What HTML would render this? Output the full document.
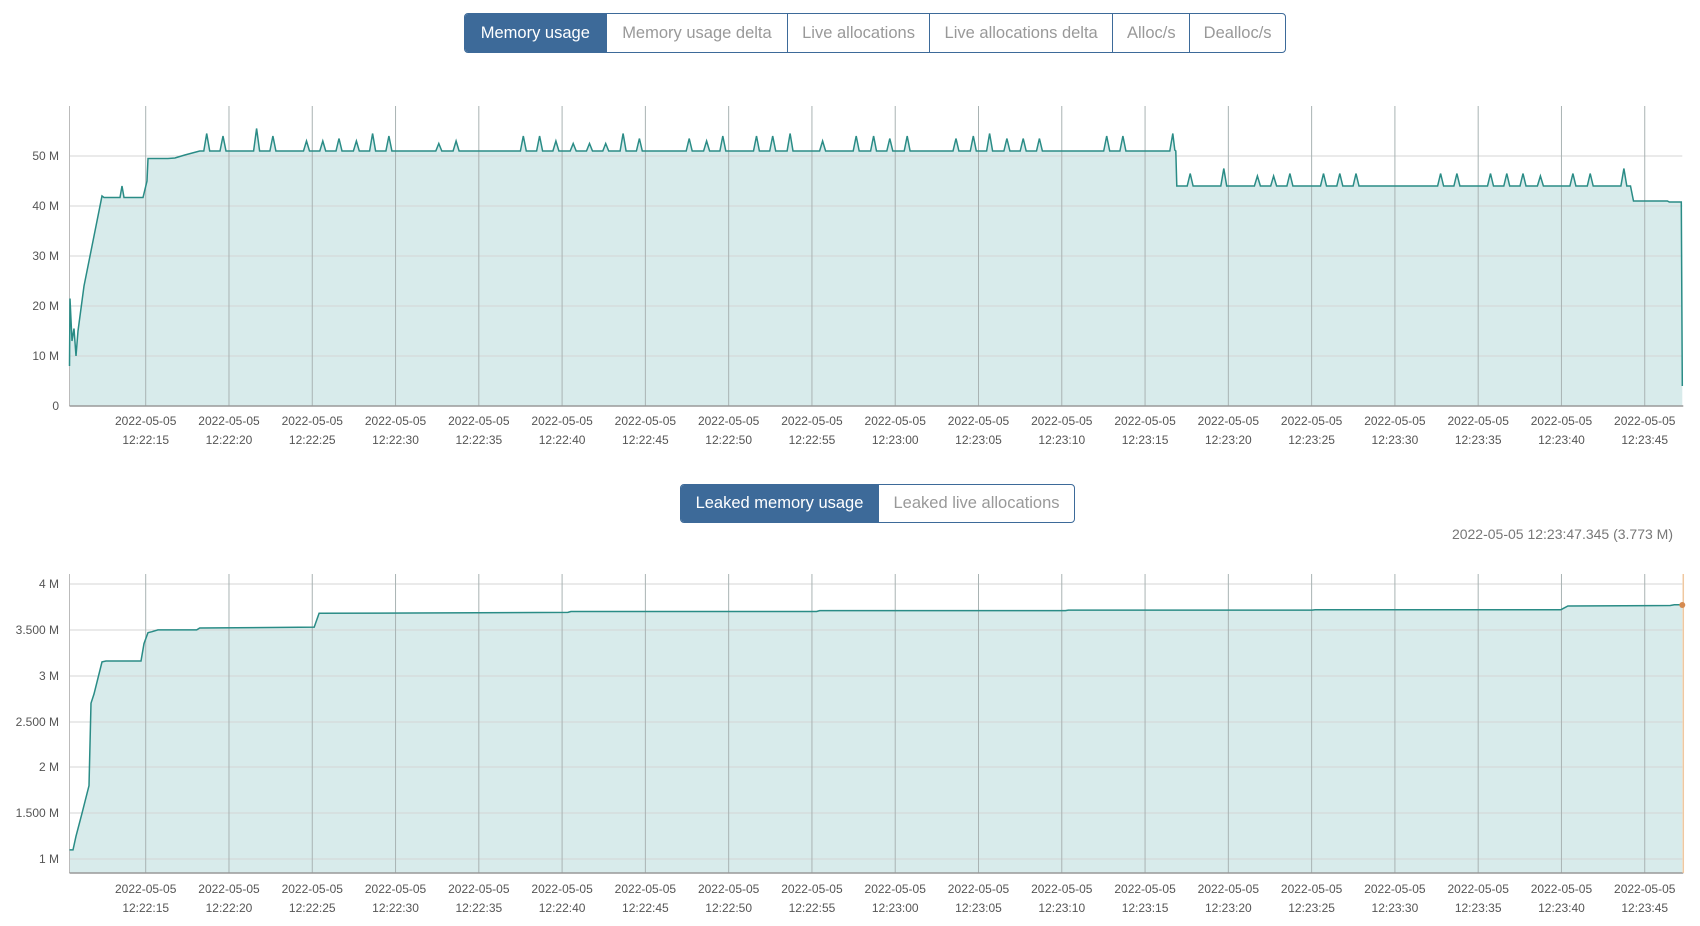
<!DOCTYPE html>
<html><head><meta charset="utf-8"><style>
html,body{margin:0;padding:0;background:#fff;width:1700px;height:926px;overflow:hidden;font-family:"Liberation Sans","DejaVu Sans",sans-serif}
.bg{position:absolute;display:flex;border:1px solid #3d6a99;border-radius:4px;overflow:hidden;box-sizing:border-box}
.bg div{font-size:16.5px;color:#999;display:flex;align-items:center;justify-content:center;border-left:1px solid #3d6a99;box-sizing:border-box;height:100%}
.bg div:first-child{border-left:none}
.bg div.act{background:#3d6a99;color:#fff}
svg{position:absolute;left:0;top:0}
</style></head><body>
<div class="bg" style="left:464px;top:13px;width:822px;height:40px">
<div class="act" style="width:141px">Memory usage</div><div style="width:182px">Memory usage delta</div><div style="width:142px">Live allocations</div><div style="width:184px">Live allocations delta</div><div style="width:77px">Alloc/s</div><div style="width:96px">Dealloc/s</div></div>
<div class="bg" style="left:680px;top:484px;width:395px;height:39px">
<div class="act" style="width:198px">Leaked memory usage</div><div style="width:197px">Leaked live allocations</div></div>
<svg id="s" width="1700" height="926" xmlns="http://www.w3.org/2000/svg" font-family="Liberation Sans, DejaVu Sans, sans-serif"></svg>
<script>
const s=document.getElementById('s');let h='';
const X0=69.5,T0=145.7,DX=83.28;
const sx=x=>x<=T0?x:T0+(x-T0)*0.995;
const XR=sx(1690);
const times=['12:22:15','12:22:20','12:22:25','12:22:30','12:22:35','12:22:40','12:22:45','12:22:50','12:22:55','12:23:00','12:23:05','12:23:10','12:23:15','12:23:20','12:23:25','12:23:30','12:23:35','12:23:40','12:23:45'];
function chart(top,bot,yticks,pts,ly){
  pts=pts.map(p=>[sx(p[0]),p[1]]);
  let d='M'+X0+','+bot;pts.forEach(p=>d+=' L'+p[0].toFixed(1)+','+p[1].toFixed(1));d+=' L'+pts[pts.length-1][0].toFixed(1)+','+bot+' Z';
  h+=`<path d="${d}" fill="#d8ebeb"/>`;
  yticks.forEach(t=>{h+=`<line x1="${X0}" x2="${XR}" y1="${t[0]}" y2="${t[0]}" stroke="#d4d4d4" stroke-width="1"/>`;
    h+=`<text x="59" y="${t[0]+4}" font-size="12" fill="#555" text-anchor="end">${t[1]}</text>`});
  for(let i=0;i<19;i++){const x=T0+i*DX;h+=`<line x1="${x}" x2="${x}" y1="${top}" y2="${bot}" stroke="#a9b3b3" stroke-width="1"/>`;
    h+=`<text x="${x}" y="${ly}" font-size="12" fill="#555" text-anchor="middle">2022-05-05</text><text x="${x}" y="${ly+19}" font-size="12" fill="#555" text-anchor="middle">${times[i]}</text>`}
  h+=`<line x1="${X0}" x2="${X0}" y1="${top}" y2="${bot}" stroke="#bbb"/><line x1="${X0}" x2="${XR+1}" y1="${bot}" y2="${bot}" stroke="#999" stroke-width="1.5"/>`;
  let l='M'+pts.map(p=>p[0].toFixed(1)+','+p[1].toFixed(1)).join(' L');
  h+=`<path d="${l}" fill="none" stroke="#2a8c86" stroke-width="1.5"/>`;
}
const yT=v=>405-v*5;
let raw=[[69.5,8],[70,21.5],[72,13],[74,15.5],[76,10],[78,15],[84,24],[91,31],[96,36],[102,42],[104,41.7],[120,41.7],[122,44],[124,41.7],[143,41.7],[147,45],[148,49.5],[168,49.5]];
const k=1.0897;
const sp1=[158,174,190,205,236,251,282,297,312,328,343,358,404,420,482,497,512,528,543,558,574,589,635,651,666,697,712,728,758,789,805,820,836,881,897,912,928,943,958,1020,1035,1081];
const hs=[2.5,3,3.5,3,4.5,3,2,2,2.5,2,3.5,3,1.5,2,3,3,2,1.5,1.5,1.5,3.5,2.5,2.5,2,3,3,3,3.5,2,3,3,2.5,3,2.5,3,3.5,2.5,2.5,2.5,3,3,3.5];
raw.push([175,49.6],[185,50.2],[200,51]);
sp1.forEach((dx,i)=>{const x=dx*k;if(x<=200)return;raw.push([x-3,51],[x,51+hs[i]],[x+3,51])});
raw.push([1180,51.2],[1182,44]);
const sp2=[1097,1128,1159,1174,1189,1220,1235,1250,1328,1343,1374,1389,1404,1420,1450,1466,1497];
const h2=[2.5,3.5,2,2,2.5,2.5,2.5,2.5,2.5,2.5,2.5,2.5,2.5,2,2.5,2.5,3.5];
sp2.forEach((dx,i)=>{const x=dx*k;raw.push([x-3,44],[x,44+h2[i]],[x+3,44])});
raw.push([1638,44],[1641,41],[1675,41],[1677,40.8],[1689,40.8],[1690,4]);
raw.sort((a,b)=>a[0]-b[0]);
chart(106,406,[[406,'0'],[356,'10 M'],[306,'20 M'],[256,'30 M'],[206,'40 M'],[156,'50 M']],raw.map(p=>[p[0],yT(p[1])+1]),425);
const yB=v=>584+(4-v)*91.7;
let b=[[69.5,1.1],[73,1.1],[76,1.25],[82,1.5],[89,1.8],[91,2.7],[94,2.8],[102,3.15],[106,3.16],[141,3.16],[144,3.35],[148,3.47],[152,3.48],[158,3.5],[197,3.5],[200,3.52],[315,3.53],[320,3.68],[570,3.69],[573,3.7],[820,3.7],[823,3.71],[1070,3.71],[1073,3.715],[1318,3.715],[1321,3.72],[1568,3.72],[1575,3.76],[1678,3.765],[1682,3.773],[1690,3.773]];
chart(574,873,[[859,'1 M'],[813,'1.500 M'],[767,'2 M'],[722,'2.500 M'],[676,'3 M'],[630,'3.500 M'],[584,'4 M']],b.map(p=>[p[0],yB(p[1])]),893);
h+=`<line x1="${XR+1}" x2="${XR+1}" y1="574" y2="873" stroke="#f0c8a0" stroke-width="1.5"/><circle cx="${XR}" cy="605" r="3" fill="#d58a50"/>`;
h+=`<text x="1673" y="539" font-size="14" fill="#777" text-anchor="end">2022-05-05 12:23:47.345 (3.773 M)</text>`;
s.innerHTML=h;
</script>
</body></html>
